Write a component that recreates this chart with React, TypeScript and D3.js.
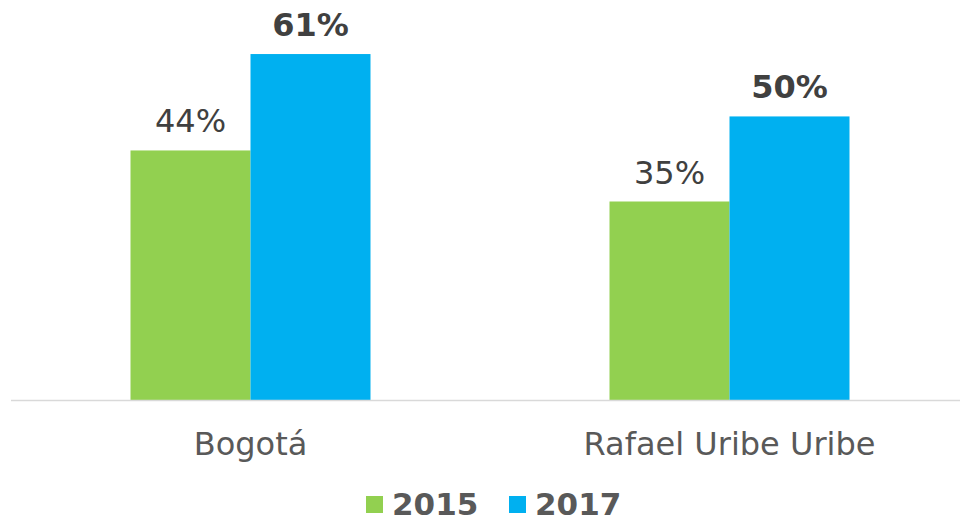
import React from "react";
import * as d3 from "d3";

const categories = ["Bogotá", "Rafael Uribe Uribe"];
const years = ["2015", "2017"];
const values2015 = [44, 35];
const values2017 = [61, 50];
const colors = ["#92D050", "#00B0F0"];

const W = 960;
const H = 522;
const FONT = "Verdana, 'DejaVu Sans', sans-serif";

export default function App() {
  const x = d3.scaleBand().domain(categories).range([11, 969]).padding(0);
  const y = d3.scaleLinear().domain([0, 70]).range([400, 3]);
  const barW = 120;
  const inner = d3
    .scaleBand()
    .domain(years)
    .range([0, barW * 2]);

  const series = [values2015, values2017];

  return (
    <svg
      width={W}
      height={H}
      style={{ position: "absolute", left: 0, top: 0, background: "#fff" }}
      fontFamily={FONT}
    >
      {categories.map((c, i) => {
        const gx = x(c)! + x.bandwidth() / 2 - barW;
        return (
          <g key={c} transform={`translate(${gx},0)`}>
            {years.map((yr, j) => {
              const v = series[j][i];
              const bx = inner(yr)!;
              return (
                <g key={yr}>
                  <rect
                    x={bx}
                    y={y(v)}
                    width={inner.bandwidth()}
                    height={y(0) - y(v)}
                    fill={colors[j]}
                  />
                  <text
                    x={bx + inner.bandwidth() / 2}
                    y={y(v) - 18}
                    textAnchor="middle"
                    fontSize={32}
                    fontWeight={j === 1 ? "bold" : "normal"}
                    fill="#404040"
                  >
                    {v}%
                  </text>
                </g>
              );
            })}
          </g>
        );
      })}
      <line x1={11} x2={W} y1={y(0) + 0.5} y2={y(0) + 0.5} stroke="#d9d9d9" strokeWidth={1.5} />
      {categories.map((c) => (
        <text
          key={c}
          x={x(c)! + x.bandwidth() / 2}
          y={455}
          textAnchor="middle"
          fontSize={32}
          fill="#595959"
        >
          {c}
        </text>
      ))}
      {years.map((yr, j) => {
        const lx = 366 + j * 143;
        return (
          <g key={yr}>
            <rect x={lx} y={496} width={17} height={17} fill={colors[j]} />
            <text x={lx + 26} y={515} fontSize={31} fontWeight="bold" fill="#595959">
              {yr}
            </text>
          </g>
        );
      })}
    </svg>
  );
}
